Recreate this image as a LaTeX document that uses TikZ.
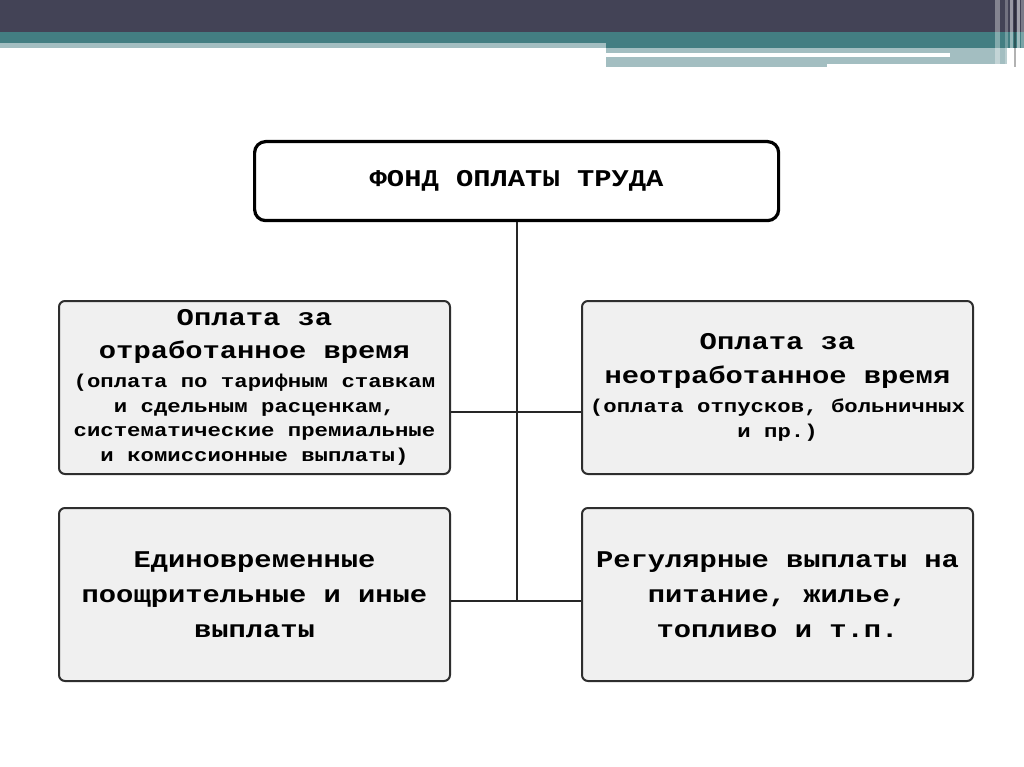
\documentclass[tikz,border=0pt]{standalone}
\usepackage{fontspec}
\usetikzlibrary{calc}
\setmonofont{Liberation Mono}[FakeStretch=1.2,BoldFont={* Bold}]
\definecolor{hdark}{HTML}{434356}
\definecolor{hteal}{HTML}{437E82}
\definecolor{hlight}{HTML}{A3BEC1}
\definecolor{boxfill}{HTML}{F0F0F0}
\definecolor{boxline}{HTML}{2E2E2E}
\newcommand{\bigf}{\fontsize{24}{35}\bfseries\ttfamily\selectfont}
\newcommand{\smf}{\fontsize{18.6}{24.8}\bfseries\ttfamily\selectfont}
\begin{document}
\begin{tikzpicture}[x=1pt,y=-1pt,
  catbox/.style={draw=boxline,line width=2pt,fill=boxfill,rounded corners=6pt,
    minimum width=391pt,minimum height=173pt,inner sep=0pt,align=center,font=\bigf,anchor=north west},
  smallbox/.style={catbox,font=\smf},
  topbox/.style={draw=black,line width=3.2pt,fill=white,rounded corners=11pt,
    minimum width=524pt,minimum height=79pt,inner sep=0pt,align=center,font=\bigf,anchor=north west},
  link/.style={draw=black!85,line width=2pt}]
\useasboundingbox (0,0) rectangle (1024,767);
\fill[white] (0,0) rectangle (1024,767);
% header
\fill[hdark] (0,0) rectangle (1024,32);
\fill[hteal] (0,32) rectangle (1024,48);
\fill[hlight] (0,43) rectangle (606,48);
\fill[hlight] (606,48) rectangle (1007,64);
\fill[white] (606,53) rectangle (950,57);
\fill[hlight] (606,64) rectangle (827,67);
\fill[white,opacity=0.35] (995,0) rectangle (1000,67);
\fill[white,opacity=0.25] (1005,0) rectangle (1008,67);
\fill[white,opacity=0.45] (1010,0) rectangle (1013,67);
\fill[black,opacity=0.3] (1014,0) rectangle (1015.5,67);
\fill[white,opacity=0.5] (1017,0) rectangle (1020,67);
\fill[white,opacity=0.3] (1021,0) rectangle (1024,67);
% boxes
\node[topbox] (fund) at (253,140) {ФОНД ОПЛАТЫ ТРУДА};
\node[smallbox] (worked) at (58,300) {\bigf Оплата за\\[8pt]\bigf отработанное время\\[4pt]
\smf (оплата по тарифным ставкам\\\smf и сдельным расценкам,\\\smf систематические премиальные\\\smf и комиссионные выплаты)};
\node[smallbox] (unworked) at (581,300) {\bigf Оплата за\\[9pt]\bigf неотработанное время\\[5pt]
\smf (оплата отпусков, больничных\\\smf и пр.)};
\node[catbox] (onetime) at (58,507) {Единовременные\\поощрительные и иные\\выплаты};
\node[catbox] (regular) at (581,507) {Регулярные выплаты на\\питание, жилье,\\топливо и т.п.};
% connectors
\coordinate (upL) at ($(worked.east)+(0,24)$);
\coordinate (upR) at ($(unworked.west)+(0,24)$);
\coordinate (loL) at ($(onetime.east)+(0,6)$);
\coordinate (loR) at ($(regular.west)+(0,6)$);
\coordinate (trunk) at (fund.south |- loL);
\draw[link] (fund.south) -- (trunk);
\draw[link] (upL) -- (upR);
\draw[link] (loL) -- (loR);
\end{tikzpicture}
\end{document}
